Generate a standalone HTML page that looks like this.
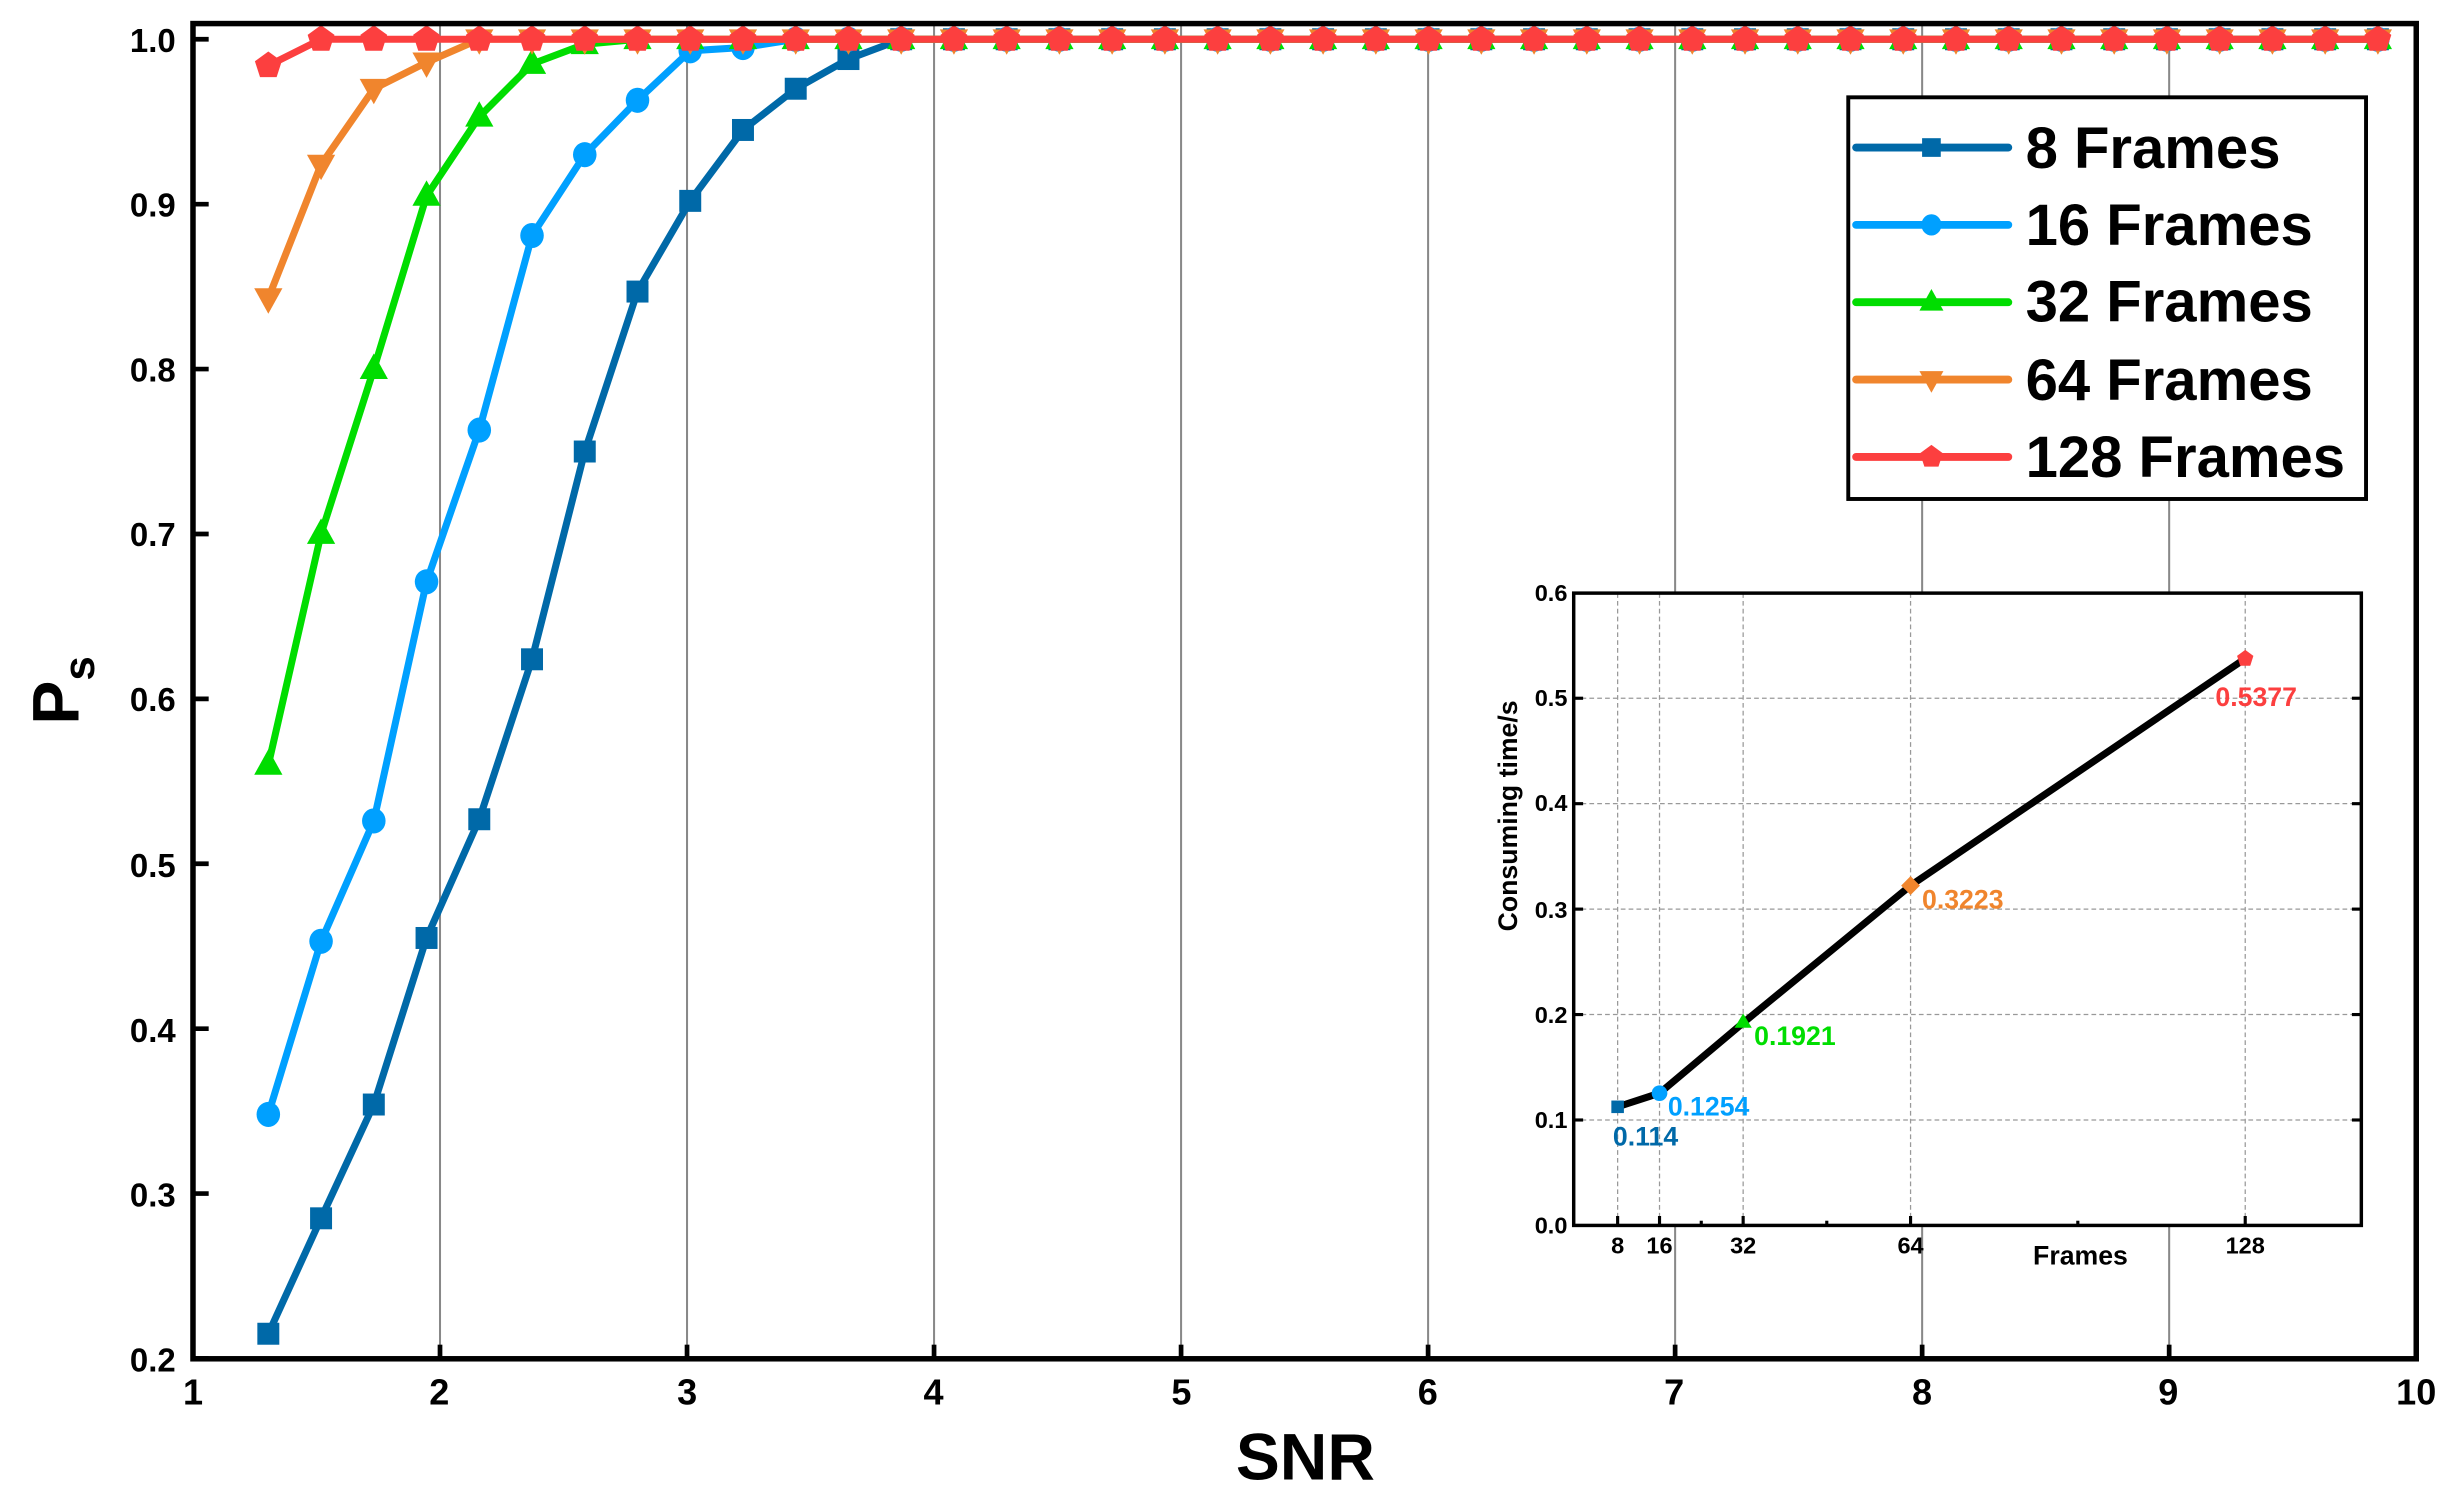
<!DOCTYPE html>
<html><head><meta charset="utf-8"><style>
html,body{margin:0;padding:0;background:#fff}
svg{display:block}
text{font-family:"Liberation Sans","DejaVu Sans",sans-serif;font-weight:bold}
</style></head><body>
<svg id="s" width="2447" height="1498" viewBox="0 0 1559.6 954.7" xmlns="http://www.w3.org/2000/svg">
<rect width="1559.6" height="954.7" fill="#fff"/>
<g id="grid" stroke="#888" stroke-width="1.3"></g>
<g id="series"></g>
<rect x="123" y="15" width="1417" height="851" fill="none" stroke="#000" stroke-width="3.5"/>
<g id="ticks" stroke="#000" stroke-width="3"></g>
<g font-size="21" text-anchor="end">
<text x="112" y="33">1.0</text><text x="112" y="138">0.9</text><text x="112" y="243">0.8</text><text x="112" y="348">0.7</text><text x="112" y="453">0.6</text><text x="112" y="559">0.5</text><text x="112" y="664">0.4</text><text x="112" y="769">0.3</text><text x="112" y="874">0.2</text>
</g>
<g font-size="23" text-anchor="middle">
<text x="123" y="895">1</text><text x="280" y="895">2</text><text x="438" y="895">3</text><text x="595" y="895">4</text><text x="753" y="895">5</text><text x="910" y="895">6</text><text x="1067" y="895">7</text><text x="1225" y="895">8</text><text x="1382" y="895">9</text><text x="1540" y="895">10</text>
</g>
<text x="832" y="943" font-size="42" text-anchor="middle">SNR</text>
<text transform="translate(50,440) rotate(-90)" font-size="42" text-anchor="middle">P<tspan font-size="28" dy="10">s</tspan></text>
<rect x="1178" y="62" width="330" height="256" fill="#fff" stroke="#000" stroke-width="2.5"/>
<g id="legend"></g>
<g font-size="37">
<text x="1291" y="107">8 Frames</text><text x="1291" y="156">16 Frames</text><text x="1291" y="205">32 Frames</text><text x="1291" y="255">64 Frames</text><text x="1291" y="304">128 Frames</text>
</g>
<rect x="1003" y="378" width="502" height="403" fill="#fff"/>
<g id="igrid" stroke="#999" stroke-width="0.8" stroke-dasharray="3,2"></g>
<polyline points="1031,705.4 1057.7,696.7 1111,651.9 1217.7,564.4 1431,419.7" fill="none" stroke="#000" stroke-width="4.5" stroke-linejoin="round"/>
<rect x="1027" y="701.4" width="8" height="8" fill="#0069a8"/>
<circle cx="1057.7" cy="696.7" r="5" fill="#00a0ff"/>
<polygon points="1111,645.9 1116.5,655 1105.5,655" fill="#00dd00"/>
<polygon points="1217.7,558.4 1223.7,564.4 1217.7,570.4 1211.7,564.4" fill="#f0852d"/>
<polygon points="1431,414.2 1436.2,418 1434.2,424.3 1427.8,424.3 1425.8,418" fill="#fc3f3f"/>
<rect x="1003" y="378" width="502" height="403" fill="none" stroke="#000" stroke-width="2.2"/>
<g id="iticks" stroke="#000" stroke-width="2"></g>
<g font-size="15" text-anchor="end">
<text x="999" y="786">0.0</text><text x="999" y="719">0.1</text><text x="999" y="652">0.2</text><text x="999" y="585">0.3</text><text x="999" y="517">0.4</text><text x="999" y="450">0.5</text><text x="999" y="383">0.6</text>
</g>
<g font-size="15" text-anchor="middle">
<text x="1031" y="799">8</text><text x="1057.7" y="799">16</text><text x="1111" y="799">32</text><text x="1217.7" y="799">64</text><text x="1431" y="799">128</text>
</g>
<text x="1326" y="806" font-size="17" text-anchor="middle">Frames</text>
<text transform="translate(967,520) rotate(-90)" font-size="17" text-anchor="middle">Consuming time/s</text>
<g font-size="17">
<text x="1028" y="730" fill="#0069a8">0.114</text>
<text x="1063" y="711" fill="#00a0ff">0.1254</text>
<text x="1118" y="666" fill="#00dd00">0.1921</text>
<text x="1225" y="579" fill="#f0852d">0.3223</text>
<text x="1412" y="450" fill="#fc3f3f">0.5377</text>
</g>
</svg>
<script>
var NS="http://www.w3.org/2000/svg";
function el(p,t,a){var e=document.createElementNS(NS,t);for(var k in a)e.setAttribute(k,a[k]);p.appendChild(e);return e;}
function X(s){return 123+(s-1)*157.44;}
function Y(v){return 25+(1-v)*1051;}
var g=document.getElementById('grid');
for(var i=2;i<=9;i++)el(g,'line',{x1:X(i),x2:X(i),y1:15,y2:866});
var t=document.getElementById('ticks');
for(var i=2;i<=9;i++)el(t,'line',{x1:X(i),x2:X(i),y1:866,y2:857});
for(var v=0.2;v<=1.001;v+=0.1)el(t,'line',{x1:123,x2:133,y1:Y(v),y2:Y(v)});
var data=[
["#0069a8","sq",[0.215,0.285,0.354,0.455,0.527,0.624,0.75,0.847,0.902,0.945,0.97,0.988,1.0]],
["#00a0ff","ci",[0.348,0.453,0.526,0.671,0.763,0.881,0.930,0.963,0.993,0.995,1.0]],
["#00dd00","tu",[0.56,0.70,0.80,0.905,0.953,0.985,0.997,1.0]],
["#f0852d","td",[0.843,0.924,0.970,0.986,1.0]],
["#fc3f3f","pe",[0.984,1.0]]];
function marker(p,type,x,y,c,sc){sc=sc||1;
 if(type=='sq'){var h=7*sc;el(p,'rect',{x:x-h,y:y-h,width:2*h,height:2*h,fill:c});}
 else if(type=='ci'){el(p,'ellipse',{cx:x,cy:y,rx:7.5*sc,ry:8*sc,fill:c});}
 else if(type=='tu'){var h=9*sc;el(p,'polygon',{points:[x,y-h*1.1,x+h,y+h*0.7,x-h,y+h*0.7].join(','),fill:c});}
 else if(type=='td'){var h=9*sc;el(p,'polygon',{points:[x,y+h*1.1,x+h,y-h*0.7,x-h,y-h*0.7].join(','),fill:c});}
 else {var r=9*sc,pts=[];for(var k=0;k<5;k++){var a=-Math.PI/2+k*2*Math.PI/5;pts.push(x+r*Math.cos(a),y+r*Math.sin(a));}el(p,'polygon',{points:pts.join(','),fill:c});}
}
var S=document.getElementById('series');
data.forEach(function(d){
 var vals=d[2].slice();while(vals.length<41)vals.push(1.0);
 var pts=vals.map(function(v,i){return [X(1.305+0.2135*i),Y(v)];});
 el(S,'polyline',{points:pts.map(function(p){return p.join(',')}).join(' '),fill:'none',stroke:d[0],'stroke-width':4.5,'stroke-linejoin':'round'});
 pts.forEach(function(p){marker(S,d[1],p[0],p[1],d[0]);});
});
var L=document.getElementById('legend');
data.forEach(function(d,i){var y=94+i*49.3;
 el(L,'line',{x1:1183,x2:1280,y1:y,y2:y,stroke:d[0],'stroke-width':5,'stroke-linecap':'round'});
 marker(L,d[1],1231,y,d[0],0.85);});
var ig=document.getElementById('igrid'),it=document.getElementById('iticks');
function IY(v){return 781-v*672;}
[1031,1057.7,1111,1217.7,1431].forEach(function(x){el(ig,'line',{x1:x,x2:x,y1:378,y2:781});el(it,'line',{x1:x,x2:x,y1:781,y2:775});});
[1084.3,1164.3,1324.3].forEach(function(x){el(it,'line',{x1:x,x2:x,y1:781,y2:778});});
for(var k=1;k<=5;k++){var y=IY(k/10);el(ig,'line',{x1:1003,x2:1505,y1:y,y2:y});el(it,'line',{x1:1505,x2:1499,y1:y,y2:y});el(it,'line',{x1:1003,x2:1009,y1:y,y2:y});}
</script>
</body></html>
